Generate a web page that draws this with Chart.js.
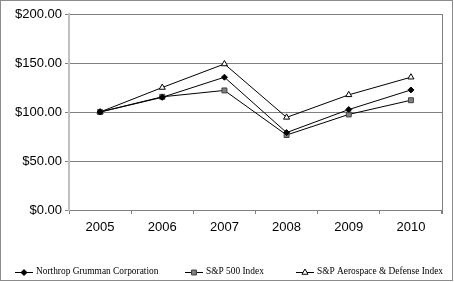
<!DOCTYPE html>
<html>
<head>
<meta charset="utf-8">
<script src="https://cdn.jsdelivr.net/npm/chart.js@4/dist/chart.umd.min.js"></script>
<style>
  html, body { margin: 0; padding: 0; background: #fff; }
  #wrap { width: 454px; height: 282px; }
</style>
</head>
<body>
<div id="wrap"><canvas id="chart" width="454" height="282"></canvas></div>
<script>
var years = ['2005', '2006', '2007', '2008', '2009', '2010'];
var northrop = [100, 115, 135.5, 79, 102.5, 122.5];
var sp500 = [100, 115.5, 122, 76.5, 97.5, 112];
var aeroDefense = [100, 125, 149, 94.5, 117.5, 135.5];
var yTicks = [0, 50, 100, 150, 200];

var seriesNames = ['Northrop Grumman Corporation', 'S&P 500 Index', 'S&P Aerospace & Defense Index'];

// legend row drawn under the axis, each entry is line + marker + text
var legendPos = [15, 185, 296];

var frame = {
    id: 'frame',
    afterDraw: function(chart) {
        var ctx = chart.ctx;
        var a = chart.chartArea;
        ctx.save();
        ctx.strokeStyle = '#808080';
        ctx.lineWidth = 1;
        ctx.beginPath();
        ctx.moveTo(Math.round(a.right) + 0.5, a.top);
        ctx.lineTo(Math.round(a.right) + 0.5, a.bottom + 4);
        ctx.stroke();
        // outer border of the picture
        ctx.strokeStyle = '#8c8c8c';
        ctx.strokeRect(0.5, 0.5, 452, 280);

        ctx.font = '9.4px "Liberation Serif", "Times New Roman", serif';
        ctx.textBaseline = 'middle';
        var y = 272;
        chart.data.datasets.forEach(function(ds, i) {
            var x = legendPos[i];
            ctx.strokeStyle = '#000';
            ctx.lineWidth = 1;
            ctx.beginPath();
            ctx.moveTo(x, y + 0.5);
            ctx.lineTo(x + 18, y + 0.5);
            ctx.stroke();
            ctx.fillStyle = ds.pointBackgroundColor;
            ctx.strokeStyle = ds.pointBorderColor;
            Chart.helpers.drawPoint(ctx, {
                pointStyle: ds.pointStyle,
                radius: ds.pointRadius,
                rotation: 0,
                borderWidth: 1
            }, x + 9, y + 0.5);
            ctx.fillStyle = '#000';
            ctx.fillText(ds.label, x + 21, y);
        });
        ctx.restore();
    }
};

var ctx = document.getElementById('chart').getContext('2d');
var chart = new Chart(ctx, {
    type: 'line',
    data: {
        labels: years,
        datasets: [{
            label: seriesNames[0],
            data: northrop,
            borderColor: '#000',
            borderWidth: 1,
            pointStyle: 'rectRot',
            pointRadius: 3,
            pointBackgroundColor: '#000',
            pointBorderColor: '#000',
            pointBorderWidth: 1
        }, {
            label: seriesNames[1],
            data: sp500,
            borderColor: '#000',
            borderWidth: 1,
            pointStyle: 'rect',
            pointRadius: 3.5,
            pointBackgroundColor: '#808080',
            pointBorderColor: '#404040',
            pointBorderWidth: 1
        }, {
            label: seriesNames[2],
            data: aeroDefense,
            borderColor: '#000',
            borderWidth: 1,
            pointStyle: 'triangle',
            pointRadius: 3.5,
            pointBackgroundColor: '#fff',
            pointBorderColor: '#000',
            pointBorderWidth: 1
        }]
    },
    options: {
        responsive: false,
        animation: false,
        layout: { padding: { top: 14, right: 12, left: 0, bottom: 0 } },
        plugins: {
            legend: { display: false },
            tooltip: { enabled: false }
        },
        scales: {
            x: {
                offset: true,
                grid: {
                    offset: true,
                    drawOnChartArea: false,
                    drawTicks: true,
                    tickLength: 4,
                    color: '#808080'
                },
                border: { color: '#808080', width: 1 },
                ticks: {
                    color: '#000',
                    padding: 6,
                    maxRotation: 0,
                    font: { family: '"Liberation Sans", Arial, sans-serif', size: 13 }
                },
                afterFit: function(scale) { scale.height = 72; }
            },
            y: {
                min: 0,
                max: 200,
                afterBuildTicks: function(scale) {
                    scale.ticks = yTicks.map(function(v) { return { value: v }; });
                },
                grid: {
                    color: '#808080',
                    lineWidth: 1,
                    drawTicks: true,
                    tickLength: 4
                },
                border: { color: '#c0c0c0', width: 2 },
                ticks: {
                    color: '#000',
                    padding: 3,
                    font: { family: '"Liberation Sans", Arial, sans-serif', size: 13 },
                    callback: function(v) { return '$' + v.toFixed(2); }
                },
                afterFit: function(scale) { scale.width = 69; }
            }
        }
    },
    plugins: [frame]
});
</script>
</body>
</html>
